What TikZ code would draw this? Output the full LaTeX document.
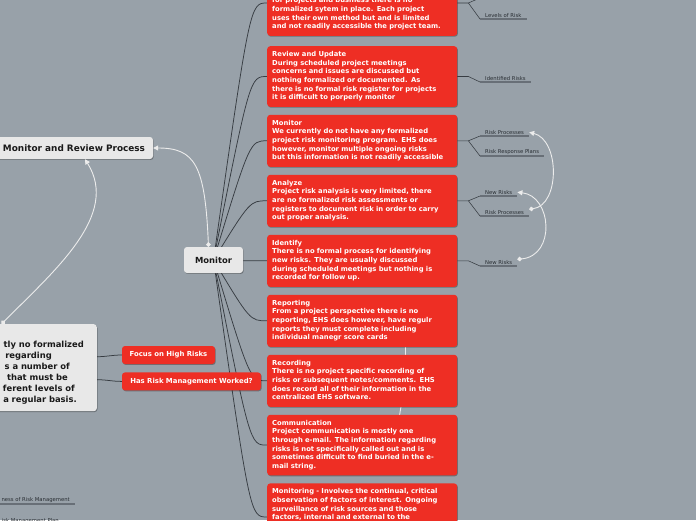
\documentclass[tikz,border=0pt]{standalone}
\usepackage{fontspec}
\setmainfont{DejaVu Sans}
\usetikzlibrary{arrows.meta, positioning, shadows}

\definecolor{canvas}{RGB}{152,161,169}
\definecolor{alert}{RGB}{238,46,36}
\definecolor{paper}{RGB}{232,232,232}
\definecolor{wire}{RGB}{55,60,66}
\definecolor{leafink}{RGB}{40,45,50}
\definecolor{leafrule}{RGB}{104,111,119}
\definecolor{relink}{RGB}{236,236,236}

\pgfdeclarelayer{back}
\pgfsetlayers{back,main}

\begin{document}
\begin{tikzpicture}[
    x=1pt, y=-1pt,
    node distance=7.6pt,
    lift/.style={drop shadow={shadow xshift=0.7pt, shadow yshift=-0.9pt, opacity=0.3, fill=black}},
    card/.style={rectangle, fill=alert, rounded corners=3pt, text=white,
                 text width=180pt, inner xsep=5pt, inner ysep=4.5pt, align=left,
                 font=\fontsize{6.8}{8.6}\selectfont\bfseries,
                 execute at begin node=\strut, execute at end node=\strut, lift},
    tag/.style={rectangle, fill=alert, rounded corners=3pt, text=white,
                minimum height=18pt, font=\fontsize{6.9}{8}\selectfont\bfseries, lift},
    topic/.style={rectangle, fill=paper, rounded corners=3pt, text=black!90, lift},
    leaf/.style={anchor=south west, inner xsep=5pt, inner ysep=1.5pt, text=leafink,
                 font=\fontsize{5.3}{6}\selectfont},
    link/.style={draw=wire, line width=0.75pt},
    twig/.style={draw=wire, line width=0.55pt},
    rule/.style={draw=leafrule, line width=1.4pt},
    rel/.style={draw=relink, line width=0.9pt,
                {Circle[length=4.5pt]}-{Triangle[length=5pt, width=5pt]}}
]
    \useasboundingbox (0,0) rectangle (696,520);

    % central topics
    \node[topic, minimum width=59pt, minimum height=26pt,
          font=\fontsize{8.4}{10}\selectfont\bfseries] (monitor) at (213.5,260) {Monitor};
    \node[topic, minimum width=158pt, minimum height=22pt,
          font=\fontsize{8.9}{10}\selectfont\bfseries] (mrp) at (74,148) {Monitor and Review Process};
    \node[topic, anchor=north east, text width=84pt, align=right, inner xsep=13pt,
          minimum height=87pt, font=\fontsize{8.4}{11}\selectfont\bfseries] (note) at (97,324)
        {\rule{0pt}{16pt}tly no formalized\\ regarding\rule{32pt}{0pt}\\ s a number of\rule{14pt}{0pt}\\
         that must be\rule{16pt}{0pt}\\ ferent levels of\rule{9pt}{0pt}\\ a regular basis.\rule{7pt}{0pt}};

    \node[tag, minimum width=93pt] (focus) at (168.5,355) {Focus on High Risks};
    \node[tag, minimum width=139pt, below=8pt of focus.south west, anchor=north west] (has)
        {Has Risk Management Worked?};

    % cards on the right
    \node[card, anchor=north west] (review) at (267,46)
        {Review and Update\\During scheduled project meetings\\concerns and issues are discussed but\\
         nothing formalized or documented.  As\\there is no formal risk register for projects\\
         it is difficult to porperly monitor};
    \node[card, above=10pt of review] (plan)
        {for projects and business there is no\\formalized sytem in place.  Each project\\
         uses their own method but and is limited\\and not readily accessible the project team.};
    \node[card, below=of review] (tracking)
        {Monitor\\We currently do not have any formalized\\project risk monitoring program.  EHS does\\
         however, monitor multiple ongoing risks\\but this information is not readily accessible};
    \node[card, below=of tracking] (analyze)
        {Analyze\\Project risk analysis is very limited, there\\are no formalized risk assessments or\\
         registers to document risk in order to carry\\out proper analysis.};
    \node[card, below=of analyze] (identify)
        {Identify\\There is no formal process for identifying\\new risks.  They are usually discussed\\
         during scheduled meetings but nothing is\\recorded for follow up.};
    \node[card, below=of identify] (reporting)
        {Reporting\\From a project perspective there is no\\reporting, EHS does however, have regulr\\
         reports they must complete including\\individual manegr score cards};
    \node[card, below=of reporting] (recording)
        {Recording\\There is no project specific recording of\\risks or subsequent notes/comments.  EHS\\
         does record all of their information in the\\centralized EHS software.};
    \node[card, below=of recording] (comms)
        {Communication\\Project communication is mostly one\\through e-mail.  The information regarding\\
         risks is not specifically called out and is\\sometimes difficult to find buried in the e-\\
         mail string.};
    \node[card, below=of comms] (ongoing)
        {Monitoring - Involves the continual, critical\\observation of factors of interest.  Ongoing\\
         surveillance of risk sources and those\\factors, internal and external to the};

    % leaves
    \node[leaf] (levels) at (480,19) {Levels of Risk};
    \node[leaf] (identified) at (480,82) {Identified Risks};
    \node[leaf] (procA) at (480,136) {Risk Processes};
    \node[leaf] (plans) at (480,156) {Risk Response Plans};
    \node[leaf] (newA) at (480,196) {New Risks};
    \node[leaf] (procB) at (480,216) {Risk Processes};
    \node[leaf] (newB) at (480,266) {New Risks};
    \node[leaf, anchor=south east] (effect) at (75,504) {ness of Risk Management};
    \node[leaf, anchor=south east] (mplan) at (64,525) {isk Management Plan};
    \coordinate (offtop) at (482,-3);

    \begin{pgfonlayer}{back}
        \fill[canvas] (0,0) rectangle (696,520);
        % monitor to cards
        \draw[link] (monitor.center) .. controls (250,3) .. (plan.west |- 0,3);
        \foreach \card in {review,tracking,analyze,identify,reporting,recording,comms}
            \draw[link] (monitor.center) .. controls ([xshift=-17pt]\card.west) .. (\card.west);
        \draw[link] (monitor.center) .. controls (250,517) .. (ongoing.west |- 0,517);
        % note to tags
        \draw[link] ([yshift=11pt]note.east) to[out=0, in=180] (focus.west);
        \draw[link] ([yshift=-12pt]note.east) to[out=0, in=180] (has.west);
        % cards to leaves
        \draw[twig] (plan.east |- 0,3) -- ++(11,0) coordinate (pb) -- (levels.south west);
        \draw[twig] (pb) -- (offtop);
        \draw[twig] (review.east) -- ++(11,0) -- (identified.south west);
        \draw[twig] (tracking.east) -- ++(11,0) coordinate (tb) -- (procA.south west);
        \draw[twig] (tb) -- (plans.south west);
        \draw[twig] (analyze.east) -- ++(11,0) coordinate (ab) -- (newA.south west);
        \draw[twig] (ab) -- (procB.south west);
        \draw[twig] (identify.east) -- ++(11,0) -- (newB.south west);
        % hidden relation behind the cards
        \draw[draw=relink, line width=0.9pt] ([xshift=43pt]reporting.center)
            .. controls (406,380) .. ([xshift=32pt]comms.center);
    \end{pgfonlayer}

    \foreach \leafname in {levels,identified,procA,plans,newA,procB,newB,effect,mplan}
        \draw[rule] (\leafname.south west) -- (\leafname.south east);

    % relations
    \draw[rel] ([xshift=-5pt]monitor.north) .. controls (205,165) and (195,148) .. (mrp.east);
    \draw[rel] ([xshift=15pt]note.north west) .. controls (55,270) and (120,215) .. ([xshift=11pt]mrp.south);
    \draw[rel] ([yshift=3pt]procB.east) .. controls (560,205) and (560,140) .. (procA.east);
    \draw[rel] ([yshift=3pt]newB.east) .. controls (556,256) and (552,196) .. (newA.east);
\end{tikzpicture}
\end{document}
